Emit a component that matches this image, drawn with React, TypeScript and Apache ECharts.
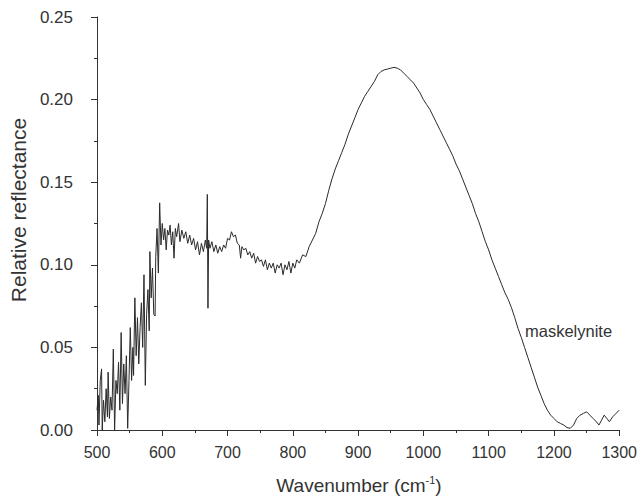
import React, { useEffect, useRef } from "react";
import * as echarts from "echarts";

const wavenumber: number[] = [
  500, 502, 503, 505, 507, 508, 510, 512, 514, 516, 517, 519, 521, 523, 525, 527, 529, 531, 533, 535,
  537, 539, 541, 543, 545, 547, 549, 551, 553, 555, 556, 558, 560, 562, 564, 566, 568, 570, 572, 574,
  576, 578, 580, 581, 583, 585, 587, 589, 590, 592, 594, 596, 598, 600, 602, 604, 606, 608, 610, 612,
  614, 616, 618, 620, 622, 625, 627, 630, 633, 636, 639, 642, 645, 648, 651, 654, 657, 660, 663, 666,
  668, 669, 670, 671, 673, 676, 679, 682, 685, 688, 691, 694, 697, 700, 703, 706, 709, 712, 715, 718,
  720, 722, 725, 728, 731, 734, 737, 740, 743, 746, 749, 752, 755, 758, 761, 764, 767, 770, 773, 776,
  779, 782, 785, 788, 791, 794, 797, 800, 803, 806, 810, 815, 820, 825, 830, 835, 840, 845, 850, 855,
  860, 865, 870, 875, 880, 885, 890, 895, 900, 905, 910, 915, 920, 925, 930, 935, 940, 945, 950, 955,
  960, 965, 970, 975, 980, 985, 990, 995, 1000, 1005, 1010, 1015, 1020, 1025, 1030, 1035, 1040, 1045, 1050, 1055,
  1060, 1065, 1070, 1075, 1080, 1085, 1090, 1095, 1100, 1105, 1110, 1115, 1120, 1125, 1130, 1135, 1140, 1145, 1150, 1155,
  1160, 1165, 1170, 1175, 1180, 1185, 1190, 1195, 1200, 1205, 1210, 1215, 1220, 1225, 1230, 1235, 1240, 1245, 1250, 1255,
  1260, 1265, 1269, 1273, 1277, 1281, 1285, 1290, 1295, 1300,
];

const reflectance: number[] = [
  0.012, 0.021, 0.003, 0.030, 0.037, 0.000, 0.018, 0.005, 0.025, 0.008, 0.035, 0.007, 0.020, 0.012, 0.049, 0.000, 0.030, 0.022, 0.041, 0.012,
  0.059, 0.016, 0.040, 0.022, 0.045, 0.001, 0.030, 0.062, 0.030, 0.050, 0.033, 0.080, 0.045, 0.068, 0.040, 0.062, 0.077, 0.050, 0.094, 0.027,
  0.070, 0.085, 0.060, 0.108, 0.080, 0.098, 0.070, 0.069, 0.105, 0.122, 0.095, 0.1375, 0.112, 0.125, 0.115, 0.122, 0.109, 0.121, 0.118, 0.124,
  0.112, 0.120, 0.104, 0.122, 0.117, 0.125, 0.114, 0.121, 0.116, 0.120, 0.113, 0.118, 0.112, 0.116, 0.109, 0.114, 0.106, 0.113, 0.108, 0.115,
  0.110, 0.1426, 0.0737, 0.115, 0.110, 0.114, 0.108, 0.112, 0.107, 0.111, 0.108, 0.112, 0.110, 0.116, 0.115, 0.120, 0.117, 0.118, 0.113, 0.112,
  0.104, 0.111, 0.109, 0.110, 0.106, 0.108, 0.104, 0.107, 0.101, 0.105, 0.102, 0.103, 0.099, 0.103, 0.097, 0.101, 0.098, 0.101, 0.095, 0.100,
  0.098, 0.101, 0.094, 0.100, 0.097, 0.102, 0.095, 0.101, 0.098, 0.103, 0.101, 0.106, 0.105, 0.111, 0.115, 0.119, 0.126, 0.131, 0.137, 0.145,
  0.152, 0.158, 0.163, 0.168, 0.173, 0.179, 0.184, 0.189, 0.194, 0.198, 0.202, 0.205, 0.208, 0.211, 0.215, 0.217, 0.218, 0.2185, 0.219, 0.2195,
  0.219, 0.218, 0.216, 0.214, 0.212, 0.210, 0.207, 0.204, 0.200, 0.197, 0.194, 0.190, 0.186, 0.182, 0.178, 0.174, 0.170, 0.166, 0.161, 0.157,
  0.152, 0.147, 0.142, 0.137, 0.131, 0.126, 0.120, 0.114, 0.109, 0.103, 0.098, 0.093, 0.088, 0.083, 0.079, 0.074, 0.068, 0.0615, 0.056, 0.050,
  0.044, 0.038, 0.032, 0.026, 0.021, 0.016, 0.012, 0.009, 0.007, 0.005, 0.004, 0.003, 0.0015, 0.001, 0.003, 0.007, 0.009, 0.010, 0.011, 0.009,
  0.007, 0.005, 0.003, 0.006, 0.009, 0.007, 0.005, 0.008, 0.010, 0.012,
];

const xTitle = "Wavenumber (cm";
const xTitleSup = "-1";
const yTitle = "Relative reflectance";
const sampleLabel = "maskelynite";

const FONT = "'Liberation Sans', Arial, Helvetica, sans-serif";
const TEXT = "#333";

export default function App() {
  const ref = useRef<HTMLDivElement>(null);
  useEffect(() => {
    if (!ref.current) return;
    const chart = echarts.init(ref.current, undefined, { renderer: "svg" });
    const data = wavenumber.map((w, i) => [w, reflectance[i]]);
    chart.setOption({
      animation: false,
      backgroundColor: "#fff",
      grid: { left: 97, right: 20, top: 17, bottom: 68 },
      xAxis: {
        type: "value",
        min: 500,
        max: 1300,
        interval: 100,
        axisLine: { show: true, lineStyle: { color: "#333", width: 1 } },
        axisTick: { show: true, length: 6, lineStyle: { color: "#333" } },
        minorTick: { show: true, splitNumber: 2, length: 3, lineStyle: { color: "#333" } },
        splitLine: { show: false },
        axisLabel: {
          color: TEXT,
          fontSize: 16,
          fontFamily: FONT,
          margin: 14,
          formatter: (v: number) => String(v),
        },
      },
      yAxis: {
        type: "value",
        min: 0,
        max: 0.25,
        interval: 0.05,
        axisLine: { show: true, lineStyle: { color: "#333", width: 1 } },
        axisTick: { show: true, length: 6, lineStyle: { color: "#333" } },
        minorTick: { show: true, splitNumber: 2, length: 3, lineStyle: { color: "#333" } },
        splitLine: { show: false },
        axisLabel: {
          color: TEXT,
          fontSize: 17,
          fontFamily: FONT,
          margin: 24,
          formatter: (v: number) => v.toFixed(2),
        },
      },
      series: [
        {
          type: "line",
          data,
          showSymbol: false,
          symbol: "none",
          lineStyle: { color: "#2a2a2a", width: 1 },
          silent: true,
        },
      ],
      graphic: [
        {
          type: "text",
          x: 359,
          y: 485,
          style: {
            text: `{a|${xTitle}}{b|${xTitleSup}}{a|)}`,
            fill: TEXT,
            align: "center",
            verticalAlign: "middle",
            rich: {
              a: { fontSize: 19, fontFamily: FONT, fill: TEXT, lineHeight: 22 },
              b: { fontSize: 11, fontFamily: FONT, fill: TEXT, verticalAlign: "top", lineHeight: 11 },
            },
          },
        },
        {
          type: "text",
          x: 18,
          y: 210,
          rotation: Math.PI / 2,
          style: {
            text: yTitle,
            fontSize: 21,
            fontFamily: FONT,
            fill: TEXT,
            align: "center",
            verticalAlign: "middle",
          },
        },
        {
          type: "text",
          x: 525,
          y: 331,
          style: {
            text: sampleLabel,
            fontSize: 16.5,
            fontFamily: FONT,
            fill: TEXT,
            align: "left",
            verticalAlign: "middle",
          },
        },
      ],
    });
    return () => chart.dispose();
  }, []);
  return (
    <div
      ref={ref}
      style={{ position: "fixed", left: 0, top: 0, width: 640, height: 498 }}
    />
  );
}
